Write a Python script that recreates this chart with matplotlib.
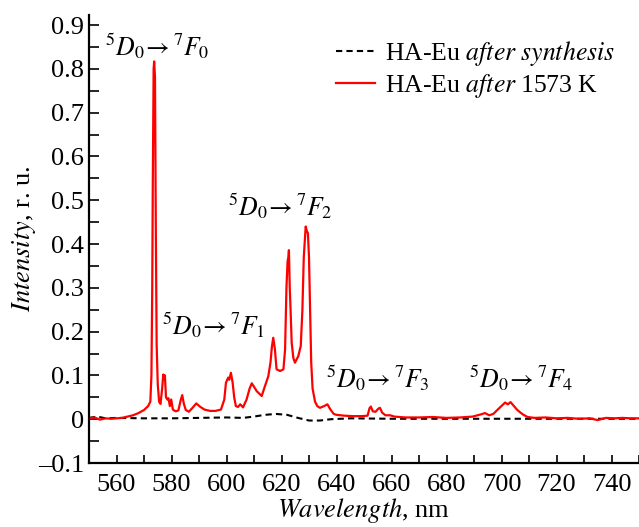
import matplotlib
matplotlib.use('Agg')
import matplotlib.pyplot as plt
from matplotlib.ticker import MultipleLocator

plt.rcParams['font.family'] = ['Liberation Serif', 'DejaVu Serif']
plt.rcParams['mathtext.fontset'] = 'stix'

# red curve: HA-Eu after 1573 K
wl_hot = [550, 552, 554, 556, 558, 560, 562, 564, 566, 568, 570, 571.5, 572.3,
          572.7, 573.0, 573.2, 573.5, 573.7, 574.0, 574.3, 574.6, 575.0, 575.5,
          576.0, 576.6, 577.0, 577.3, 577.6, 578.0, 578.5, 578.9, 579.4, 579.9,
          580.5, 581.5, 582.5, 583.4, 583.9, 584.5, 585.2, 586.3, 587.5, 589.0,
          590.5, 592, 594, 596, 598, 599.2, 599.8, 600.6, 601.0, 601.6, 602.2,
          602.8, 603.4, 604.2, 605, 606, 607.3, 608.4, 609.2, 610.2, 611, 612.8,
          614, 615.2, 616.0, 616.5, 617, 617.6, 618.2, 619.5, 620.7, 621.3,
          621.8, 622.2, 622.5, 622.7, 623.0, 623.3, 623.7, 624.3, 624.9, 626.1,
          627, 627.6, 628.1, 628.5, 628.8, 629.2, 629.6, 630.0, 630.4, 630.8,
          631.3, 632.2, 633, 634, 635.5, 636.7, 637.8, 639, 640, 643, 646, 649,
          651.3, 652.0, 652.5, 653.2, 654.2, 655.2, 655.8, 656.6, 657.8, 659.5,
          661, 665, 670, 675, 680, 685, 689.5, 692.5, 694, 695.5, 697, 698.8,
          700.5, 701.3, 702.3, 703.3, 704.5, 705.6, 706.7, 708, 709.5, 712, 716,
          720, 724, 728, 732, 735, 738, 741, 744, 747, 750]
int_hot = [0.002, 0.004, -0.001, 0.002, 0.001, 0.002, 0.003, 0.006, 0.009, 0.014,
           0.021, 0.030, 0.040, 0.10, 0.30, 0.54, 0.80, 0.817, 0.78, 0.43, 0.17,
           0.08, 0.040, 0.035, 0.07, 0.102, 0.09, 0.10, 0.05, 0.045, 0.048, 0.030,
           0.045, 0.022, 0.018, 0.020, 0.045, 0.055, 0.035, 0.021, 0.017, 0.025,
           0.036, 0.028, 0.022, 0.019, 0.019, 0.022, 0.045, 0.083, 0.095, 0.090,
           0.106, 0.085, 0.05, 0.030, 0.028, 0.034, 0.027, 0.045, 0.070, 0.082,
           0.072, 0.064, 0.053, 0.076, 0.098, 0.13, 0.165, 0.186, 0.16, 0.114,
           0.11, 0.114, 0.159, 0.30, 0.36, 0.37, 0.386, 0.30, 0.25, 0.175, 0.14,
           0.129, 0.144, 0.167, 0.25, 0.37, 0.41, 0.44, 0.43, 0.425, 0.37, 0.25,
           0.13, 0.07, 0.040, 0.030, 0.026, 0.030, 0.034, 0.022, 0.012, 0.010,
           0.008, 0.007, 0.007, 0.008, 0.025, 0.029, 0.018, 0.017, 0.024, 0.026,
           0.015, 0.009, 0.009, 0.006, 0.004, 0.004, 0.005, 0.003, 0.004, 0.006,
           0.011, 0.014, 0.009, 0.012, 0.023, 0.033, 0.038, 0.034, 0.039, 0.030,
           0.022, 0.016, 0.010, 0.005, 0.003, 0.004, 0.002, 0.003, 0.001, 0.002,
           -0.002, 0.003, 0.002, 0.003, 0.002, 0.002]

# dashed curve: HA-Eu after synthesis
wl_syn = [550, 553, 556, 560, 570, 580, 590, 600, 606, 610, 614, 618, 622, 626,
          630, 634, 638, 645, 660, 680, 700, 720, 750]
int_syn = [0.003, 0.006, 0.002, 0.003, 0.002, 0.002, 0.003, 0.004, 0.003, 0.006,
           0.010, 0.012, 0.010, 0.003, -0.003, -0.003, 0.000, 0.002, 0.001, 0.001,
           0.001, 0.001, 0.001]

y_ticks = [-0.1, 0, 0.1, 0.2, 0.3, 0.4, 0.5, 0.6, 0.7, 0.8, 0.9]
y_ticklabels = ['\u20130.1', '0', '0.1', '0.2', '0.3', '0.4', '0.5', '0.6', '0.7', '0.8', '0.9']

# transition labels: (x, y, text)
transitions = [
    (574.7, 0.83, r'${}^{5}D_{0}\!\rightarrow{}^{7}F_{0}$'),
    (595.2, 0.193, r'${}^{5}D_{0}\!\rightarrow{}^{7}F_{1}$'),
    (619.6, 0.466, r'${}^{5}D_{0}\!\rightarrow{}^{7}F_{2}$'),
    (655.1, 0.072, r'${}^{5}D_{0}\!\rightarrow{}^{7}F_{3}$'),
    (707.0, 0.072, r'${}^{5}D_{0}\!\rightarrow{}^{7}F_{4}$'),
]

fig = plt.figure(figsize=(6.39, 5.27), dpi=100)
ax = fig.add_axes([89 / 639, 64 / 527, 550 / 639, 448 / 527])

ax.plot(wl_syn, int_syn, color='black', linestyle=(0, (3, 2)), linewidth=1.5,
        label=r'HA-Eu $\mathit{after\ synthesis}$')
ax.plot(wl_hot, int_hot, color='#ff0000', linewidth=1.6,
        label=r'HA-Eu $\mathit{after}$ 1573 K')

for x, y, txt in transitions:
    ax.text(x, y, txt, fontsize=18.5, ha='center', va='baseline')

ax.set_xlim(550, 750)
ax.set_ylim(-0.1, 0.923)
ax.set_yticks(y_ticks)
ax.set_yticklabels(y_ticklabels)
ax.xaxis.set_major_locator(MultipleLocator(20))
ax.xaxis.set_minor_locator(MultipleLocator(10))
ax.yaxis.set_minor_locator(MultipleLocator(0.05))
ax.tick_params(which='both', direction='in', length=7, width=1.2, labelsize=19)
ax.tick_params(axis='x', which='both', length=6, pad=8)

for side in ['top', 'right']:
    ax.spines[side].set_visible(False)
for side in ['left', 'bottom']:
    ax.spines[side].set_linewidth(1.6)

ax.set_xlabel(r'$\mathit{Wavelength}$, nm', fontsize=19, labelpad=0)
ax.set_ylabel(r'$\mathit{Intensity}$, r. u.', fontsize=19, labelpad=0)

ax.legend(loc='upper right', frameon=False, fontsize=18.5, handlelength=1.5,
          handletextpad=0.4, labelspacing=0.15, borderaxespad=0.2,
          bbox_to_anchor=(0.985, 0.98))

fig.savefig('out.png', dpi=100)
